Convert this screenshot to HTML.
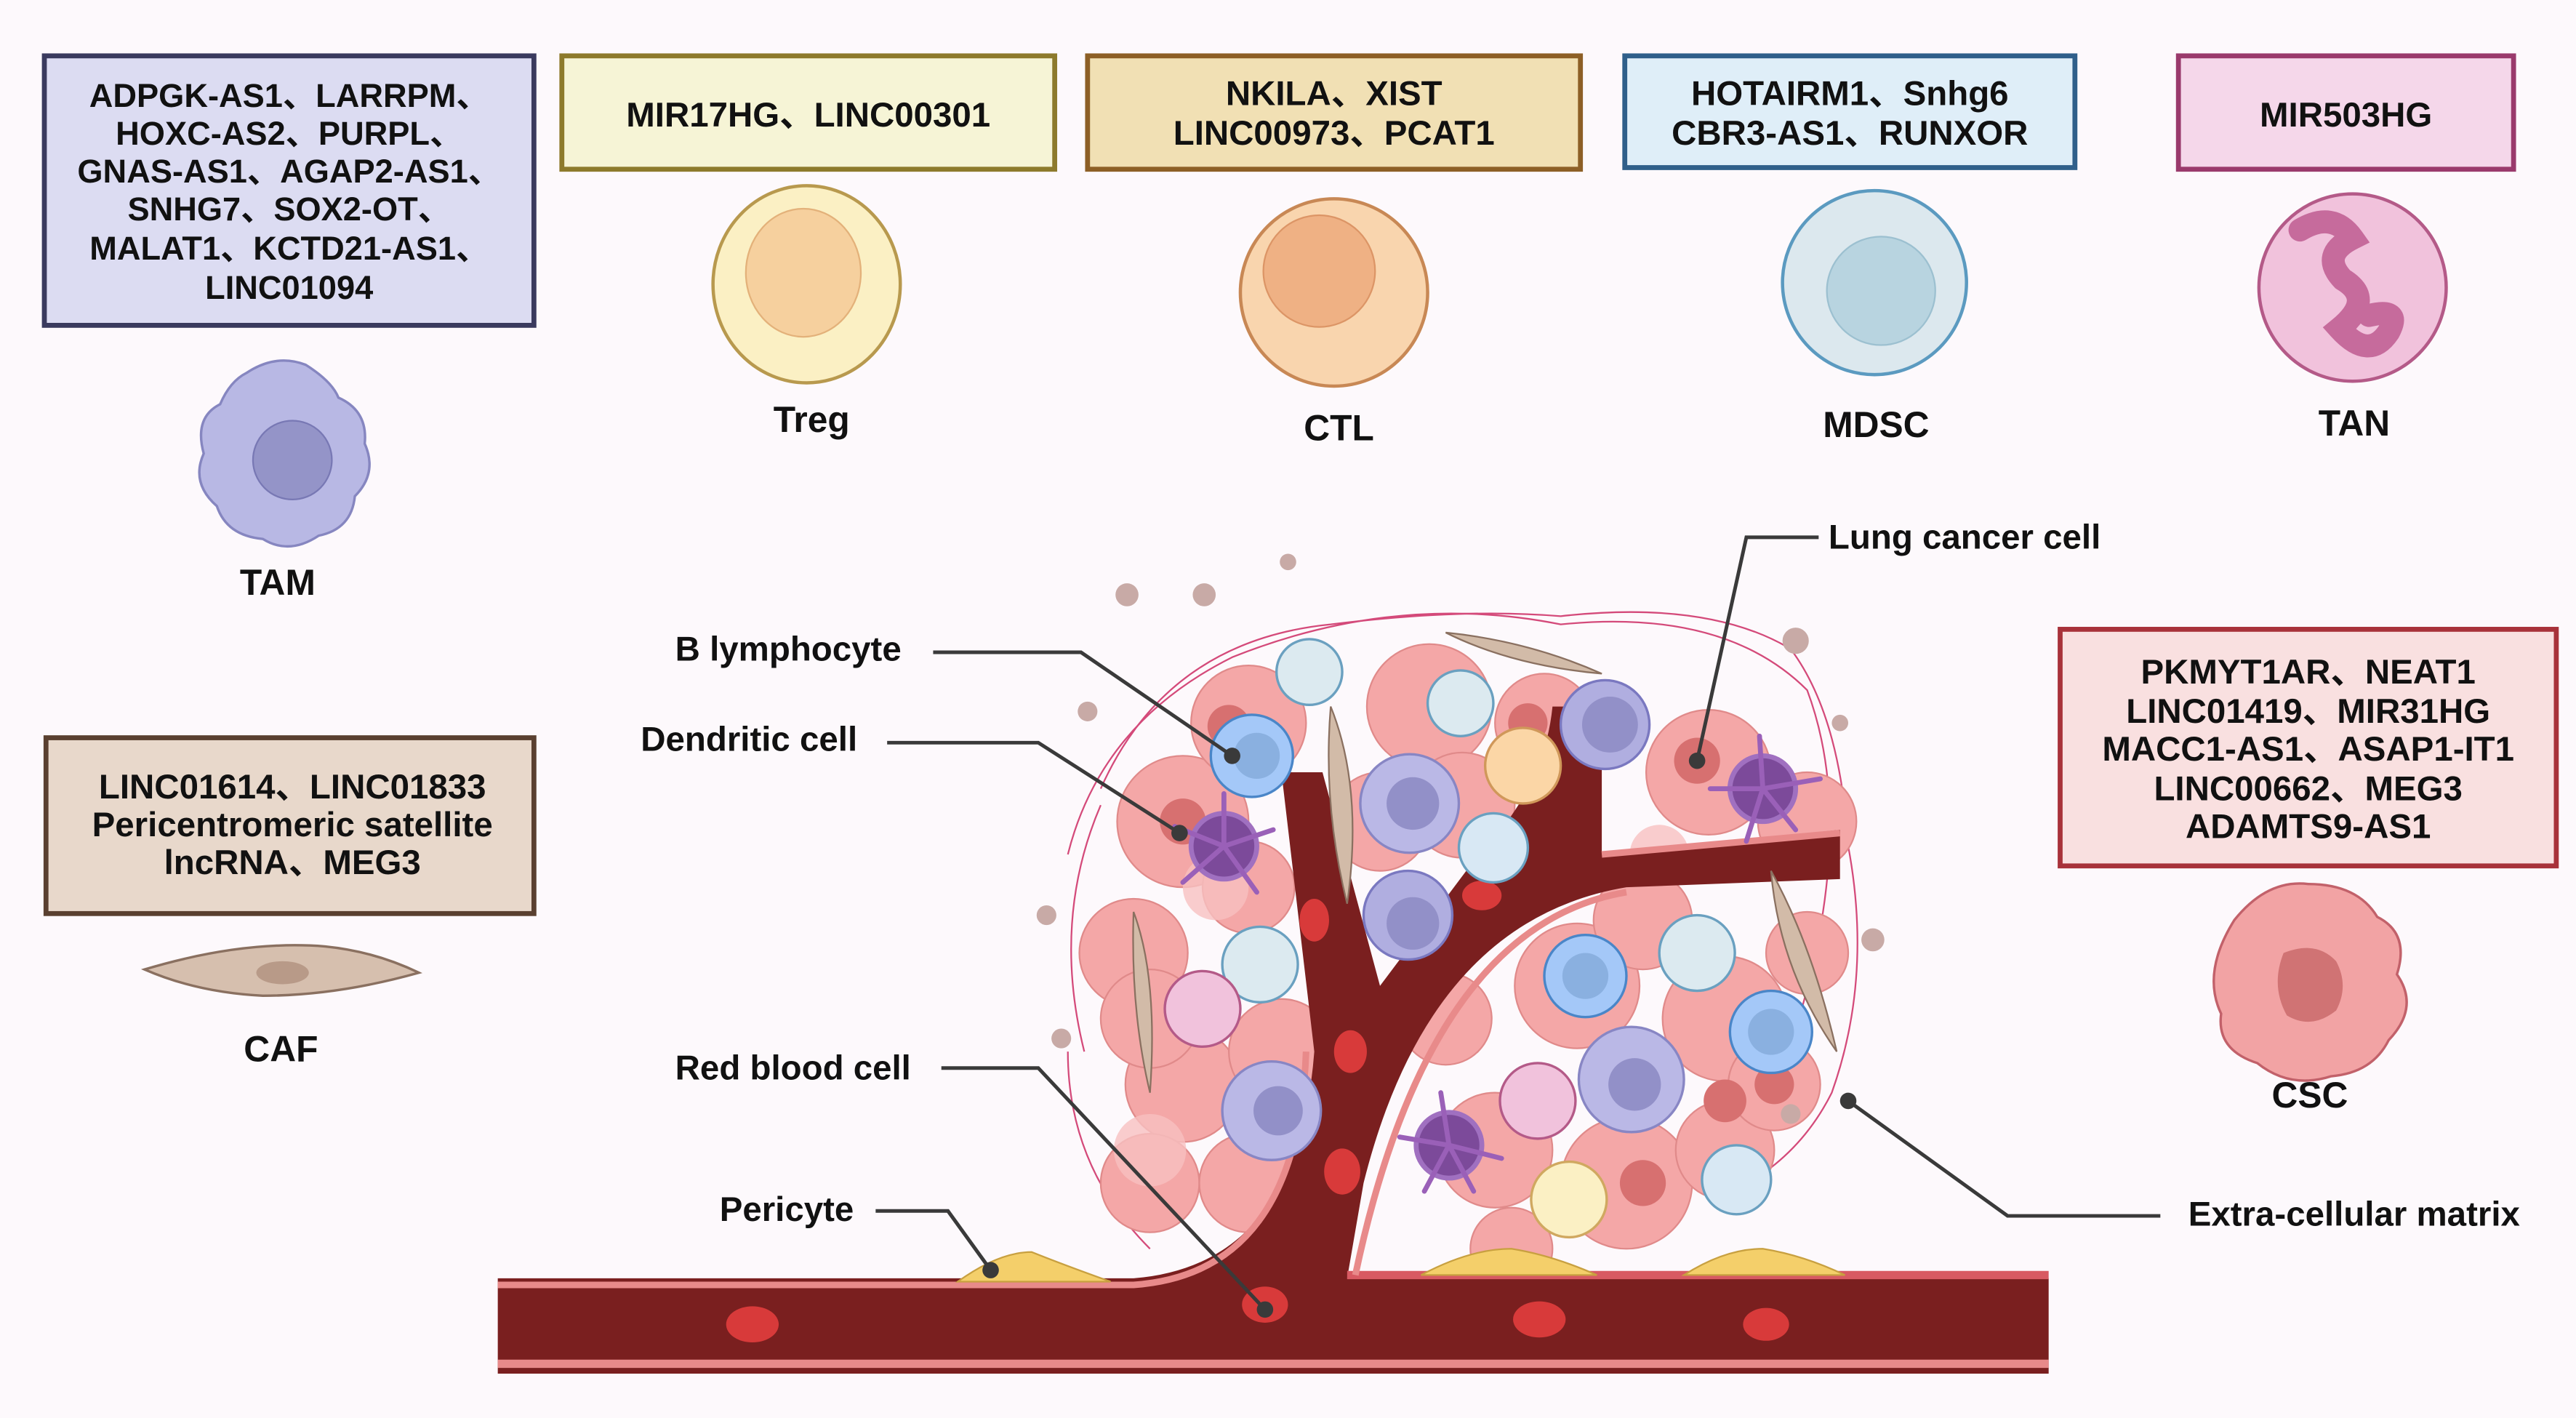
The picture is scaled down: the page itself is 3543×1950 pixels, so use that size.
<!DOCTYPE html>
<html><head><meta charset="utf-8"><style>
html,body{margin:0;padding:0;background:#fdf9fc;}
svg{display:block}
text{font-family:"Liberation Sans","Noto Sans CJK SC",sans-serif;font-weight:bold;fill:#111;}
</style></head><body>
<svg width="3543" height="1950" viewBox="0 0 1568 863" preserveAspectRatio="none" xmlns="http://www.w3.org/2000/svg">
<rect width="1568" height="863" fill="#fdf9fc"/>
<!-- boxes -->
<rect x="27" y="34" width="298" height="164" fill="#dcdcf2" stroke="#3a3a5e" stroke-width="3"/>
<g font-size="20" text-anchor="middle">
<text x="176" y="65">ADPGK-AS1、LARRPM、</text>
<text x="176" y="88">HOXC-AS2、PURPL、</text>
<text x="176" y="111">GNAS-AS1、AGAP2-AS1、</text>
<text x="176" y="134">SNHG7、SOX2-OT、</text>
<text x="176" y="158">MALAT1、KCTD21-AS1、</text>
<text x="176" y="182">LINC01094</text>
</g>
<rect x="342" y="34" width="300" height="69" fill="#f6f4d6" stroke="#8d7a2c" stroke-width="3"/>
<text x="492" y="77" font-size="21" text-anchor="middle">MIR17HG、LINC00301</text>
<rect x="662" y="34" width="300" height="69" fill="#f1e0b4" stroke="#8d5f26" stroke-width="3"/>
<g font-size="21" text-anchor="middle"><text x="812" y="64">NKILA、XIST</text><text x="812" y="88">LINC00973、PCAT1</text></g>
<rect x="989" y="34" width="274" height="68" fill="#dfeef8" stroke="#2f5f8a" stroke-width="3"/>
<g font-size="21" text-anchor="middle"><text x="1126" y="64">HOTAIRM1、Snhg6</text><text x="1126" y="88">CBR3-AS1、RUNXOR</text></g>
<rect x="1326" y="34" width="204" height="69" fill="#f5d7ea" stroke="#9a3a6c" stroke-width="3"/>
<text x="1428" y="77" font-size="21" text-anchor="middle">MIR503HG</text>
<rect x="28" y="449" width="297" height="107" fill="#e8d8cb" stroke="#5a4030" stroke-width="3"/>
<g font-size="21" text-anchor="middle"><text x="178" y="486">LINC01614、LINC01833</text><text x="178" y="509">Pericentromeric satellite</text><text x="178" y="532">lncRNA、MEG3</text></g>
<rect x="1254" y="383" width="302" height="144" fill="#f9e0e0" stroke="#a8323a" stroke-width="3"/>
<g font-size="21" text-anchor="middle"><text x="1405" y="416">PKMYT1AR、NEAT1</text><text x="1405" y="440">LINC01419、MIR31HG</text><text x="1405" y="463">MACC1-AS1、ASAP1-IT1</text><text x="1405" y="487">LINC00662、MEG3</text><text x="1405" y="510">ADAMTS9-AS1</text></g>
<!-- top cells -->
<ellipse cx="491" cy="173" rx="57" ry="60" fill="#fbf0c4" stroke="#b8994e" stroke-width="2"/>
<ellipse cx="489" cy="166" rx="35" ry="39" fill="#f6d09e" stroke="#e3b17a"/>
<circle cx="812" cy="178" r="57" fill="#f9d5ae" stroke="#c88855" stroke-width="2"/>
<circle cx="803" cy="165" r="34" fill="#efb184" stroke="#dc9566"/>
<circle cx="1141" cy="172" r="56" fill="#dce8ee" stroke="#5b9ac0" stroke-width="2"/>
<circle cx="1145" cy="177" r="33" fill="#b8d4e0" stroke="#9cc0d0"/>
<circle cx="1432" cy="175" r="57" fill="#f1c2dc" stroke="#b45a88" stroke-width="2"/>
<path d="M1400,140 q20,-12 32,5 q-20,10 -6,25 q20,12 -2,30 q18,20 30,2 q8,-15 -12,-10" fill="none" stroke="#c66b9c" stroke-width="14" stroke-linecap="round"/>
<!-- TAM -->
<path d="M150,227 q18,-12 36,-5 q16,10 20,20 q18,8 16,28 q8,18 -6,32 q-2,20 -22,24 q-18,12 -34,2 q-22,-2 -28,-20 q-16,-14 -8,-32 q-6,-22 10,-30 q6,-14 16,-19z" fill="#b8b8e4" stroke="#8686c0" stroke-width="1.5"/>
<circle cx="178" cy="280" r="24" fill="#9494c8" stroke="#7878b4"/>
<!-- CAF -->
<path d="M88,590 q60,-18 110,-14 q30,3 57,16 q-50,14 -95,14 q-40,-2 -72,-16z" fill="#d6bfae" stroke="#8a7060" stroke-width="1.5"/>
<ellipse cx="172" cy="592" rx="16" ry="7" fill="#b89a88"/>
<!-- CSC -->
<path d="M1360,560 q20,-25 45,-22 q30,0 42,20 q20,10 12,35 q14,20 -5,40 q-10,20 -35,22 q-25,8 -45,-8 q-25,-8 -22,-30 q-12,-25 8,-57z" fill="#f2a3a4" stroke="#c2616a" stroke-width="1.5"/>
<path d="M1390,580 q20,-8 32,5 q8,15 0,30 q-15,12 -30,3 q-10,-18 -2,-38z" fill="#d07374"/>
<!-- labels -->
<g font-size="22" text-anchor="middle">
<text x="169" y="362">TAM</text><text x="494" y="263">Treg</text><text x="815" y="268">CTL</text><text x="1142" y="266">MDSC</text><text x="1433" y="265">TAN</text><text x="171" y="646">CAF</text><text x="1406" y="674">CSC</text>
</g>
<!-- tumor -->
<g>
<g fill="none" stroke="#d44a7a" stroke-width="1">
<path d="M670,480 q40,-90 140,-100 q80,-10 140,-5 q90,-10 140,20 q30,40 35,120 q15,80 -10,150 q-20,40 -60,60"/>
<path d="M650,520 q20,-80 100,-120 q100,-40 200,-20 q100,-10 150,40 q30,80 -5,200"/>
<path d="M660,640 q-20,-80 10,-150 M700,760 q-50,-50 -50,-120"/>
</g>
<g fill="#f4a7a7" stroke="#e08a8a">
<circle cx="720" cy="500" r="40"/><circle cx="760" cy="440" r="35"/><circle cx="870" cy="430" r="38"/><circle cx="940" cy="440" r="30"/><circle cx="1040" cy="470" r="38"/><circle cx="690" cy="580" r="33"/><circle cx="720" cy="660" r="35"/><circle cx="780" cy="640" r="32"/><circle cx="960" cy="600" r="38"/><circle cx="1050" cy="620" r="38"/><circle cx="990" cy="720" r="40"/><circle cx="1050" cy="700" r="30"/><circle cx="910" cy="700" r="35"/><circle cx="890" cy="490" r="32"/><circle cx="840" cy="500" r="30"/><circle cx="760" cy="540" r="28"/><circle cx="1100" cy="580" r="25"/>
<circle cx="700" cy="720" r="30"/><circle cx="760" cy="720" r="30"/><circle cx="1080" cy="660" r="28"/><circle cx="1000" cy="560" r="30"/><circle cx="880" cy="620" r="28"/><circle cx="920" cy="760" r="25" /><circle cx="1100" cy="500" r="30"/><circle cx="700" cy="620" r="30"/></g>
<g fill="#f8c0c0" opacity="0.8"><circle cx="700" cy="700" r="22"/><circle cx="740" cy="540" r="20"/><circle cx="1010" cy="520" r="18"/></g>
<g fill="#d77070"><circle cx="1033" cy="463" r="14"/><circle cx="748" cy="442" r="13"/><circle cx="1000" cy="720" r="14"/><circle cx="930" cy="440" r="12"/><circle cx="1050" cy="670" r="13"/><circle cx="720" cy="500" r="14"/><circle cx="1080" cy="660" r="12"/></g>
<!-- vessel -->
<path d="M303,778 L690,778 Q790,770 800,640 L780,470 L805,470 L840,600 L900,520 Q940,480 945,430 L975,430 L975,520 L1120,505 L1120,535 L990,540 Q870,560 830,720 L820,778 L1247,778 L1247,836 L303,836 Z" fill="#7a1f1f"/>
<path d="M303,782 L690,782 Q790,775 795,640" fill="none" stroke="#e88a8a" stroke-width="4"/>
<path d="M303,830 L1247,830" stroke="#e88a8a" stroke-width="5"/>
<path d="M820,776 L1247,776" stroke="#d85a62" stroke-width="5"/>
<path d="M990,543 Q870,563 825,776" fill="none" stroke="#e88a8a" stroke-width="4"/>
<path d="M975,520 L1120,507" stroke="#e88a8a" stroke-width="4"/>
<g fill="#d83a3a"><ellipse cx="458" cy="806" rx="16" ry="11"/><ellipse cx="770" cy="794" rx="14" ry="11"/><ellipse cx="937" cy="803" rx="16" ry="11"/><ellipse cx="1075" cy="806" rx="14" ry="10"/><ellipse cx="817" cy="713" rx="11" ry="14"/><ellipse cx="822" cy="640" rx="10" ry="13"/><ellipse cx="800" cy="560" rx="9" ry="13"/><ellipse cx="902" cy="545" rx="12" ry="9"/></g>
<g fill="#f4cf6a" stroke="#c8a040"><path d="M583,780 q25,-18 45,-18 q20,8 48,18z"/><path d="M865,776 q30,-16 55,-16 q25,4 52,16z"/><path d="M1025,776 q25,-16 48,-16 q25,4 50,16z"/></g>
<!-- immune cells -->
<g stroke-width="1.5">
<circle cx="797" cy="409" r="20" fill="#dceaf0" stroke="#6aa0c0"/>
<circle cx="762" cy="460" r="25" fill="#a4c8f8" stroke="#4a86c8"/>
<circle cx="889" cy="428" r="20" fill="#dceaf0" stroke="#6aa0c0"/>
<circle cx="977" cy="441" r="27" fill="#b0aee0" stroke="#7a78c0"/>
<circle cx="927" cy="466" r="23" fill="#fbd6a6" stroke="#d0985a"/>
<circle cx="909" cy="516" r="21" fill="#d8e8f4" stroke="#6aa0c0"/>
<circle cx="858" cy="489" r="30" fill="#bab8e6" stroke="#8886c4"/>
<circle cx="857" cy="557" r="27" fill="#b0aee0" stroke="#7a78c0"/>
<circle cx="767" cy="587" r="23" fill="#dceaf0" stroke="#6aa0c0"/>
<circle cx="732" cy="614" r="23" fill="#f1c2dc" stroke="#b45a88"/>
<circle cx="774" cy="676" r="30" fill="#bab8e6" stroke="#8886c4"/>
<circle cx="965" cy="594" r="25" fill="#a4c8f8" stroke="#4a86c8"/>
<circle cx="1033" cy="580" r="23" fill="#dceaf0" stroke="#6aa0c0"/>
<circle cx="1078" cy="628" r="25" fill="#a4c8f8" stroke="#4a86c8"/>
<circle cx="993" cy="657" r="32" fill="#bab8e6" stroke="#8886c4"/>
<circle cx="936" cy="670" r="23" fill="#f1c2dc" stroke="#b45a88"/>
<circle cx="955" cy="730" r="23" fill="#fbf0c4" stroke="#d0a860"/>
<circle cx="1057" cy="718" r="21" fill="#d8e8f4" stroke="#6aa0c0"/>
</g>
<g fill="#8ab0e0"><circle cx="765" cy="460" r="14"/><circle cx="965" cy="594" r="14"/><circle cx="1078" cy="628" r="14"/></g>
<g fill="#9290c8"><circle cx="980" cy="441" r="17"/><circle cx="860" cy="489" r="16"/><circle cx="860" cy="562" r="16"/><circle cx="778" cy="676" r="15"/><circle cx="995" cy="660" r="16"/></g>
<g fill="#7c4a9a" stroke="#a070c0" stroke-width="3"><circle cx="745" cy="515" r="20"/><circle cx="1073" cy="480" r="20"/><circle cx="882" cy="697" r="20"/></g>
<g stroke="#9a60b8" stroke-width="3" stroke-linecap="round">
<path d="M745,515 l-30,-12 M745,515 l30,-10 M745,515 l-25,22 M745,515 l20,28 M745,515 l0,-32"/>
<path d="M1073,480 l-32,0 M1073,480 l35,-6 M1073,480 l-10,32 M1073,480 l20,25 M1073,480 l-2,-32"/>
<path d="M882,697 l-30,-5 M882,697 l32,8 M882,697 l-15,28 M882,697 l15,28 M882,697 l-5,-32"/>
</g>
<g fill="#d2bba8" stroke="#8a7060"><path d="M690,555 q15,40 10,110 q-12,-50 -10,-110z"/><path d="M810,430 q20,50 10,120 q-15,-60 -10,-120z"/><path d="M1078,530 q25,45 40,110 q-35,-50 -40,-110z"/><path d="M880,385 q50,5 95,25 q-55,-5 -95,-25z"/></g>
<g fill="#c8aaa6"><circle cx="686" cy="362" r="7"/><circle cx="733" cy="362" r="7"/><circle cx="784" cy="342" r="5"/><circle cx="662" cy="433" r="6"/><circle cx="637" cy="557" r="6"/><circle cx="646" cy="632" r="6"/><circle cx="1093" cy="390" r="8"/><circle cx="1120" cy="440" r="5"/><circle cx="1140" cy="572" r="7"/><circle cx="1090" cy="678" r="6"/></g>
</g>
<!-- connectors -->
<g fill="none" stroke="#3a3a3a" stroke-width="2.2">
<path d="M1107,327 L1063,327 L1033,463"/>
<path d="M568,397 L658,397 L750,460"/>
<path d="M540,452 L632,452 L718,507"/>
<path d="M573,650 L632,650 L770,797"/>
<path d="M533,737 L577,737 L603,773"/>
<path d="M1315,740 L1222,740 L1125,670"/>
</g>
<g fill="#3a3a3a"><circle cx="1033" cy="463" r="5"/><circle cx="750" cy="460" r="5"/><circle cx="718" cy="507" r="5"/><circle cx="770" cy="797" r="5"/><circle cx="603" cy="773" r="5"/><circle cx="1125" cy="670" r="5"/></g>
<g font-size="21">
<text x="1113" y="334">Lung cancer cell</text>
<text x="411" y="402">B lymphocyte</text>
<text x="390" y="457">Dendritic cell</text>
<text x="411" y="657">Red blood cell</text>
<text x="438" y="743">Pericyte</text>
<text x="1332" y="746">Extra-cellular matrix</text>
</g>
</svg>
</body></html>
